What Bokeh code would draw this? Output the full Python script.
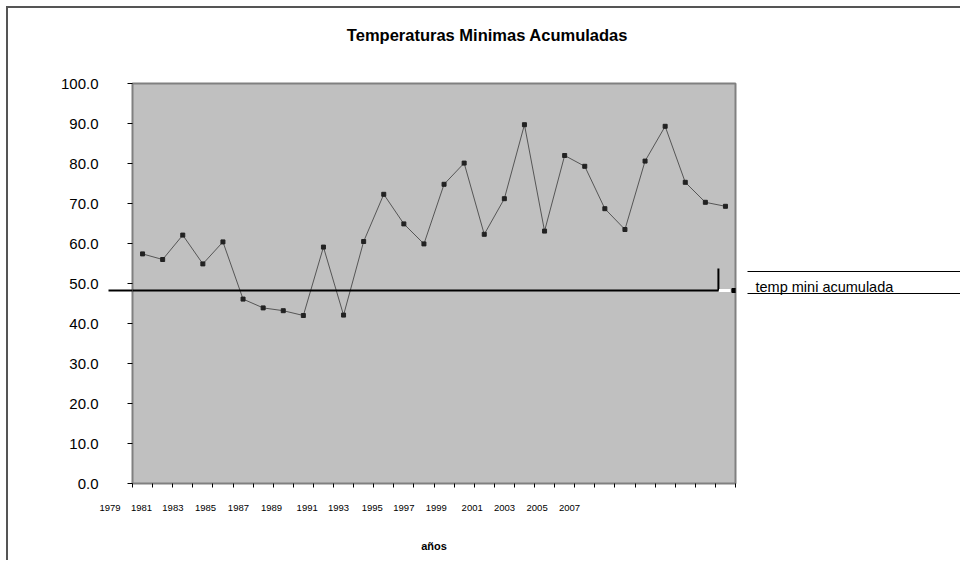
from bokeh.plotting import figure
from bokeh.models import (Range1d, LinearAxis, FixedTicker, NumeralTickFormatter,
                          ColumnDataSource)
from bokeh.embed import file_html
from bokeh.resources import INLINE

# ---- data ----
years = list(range(1981, 2011))
temps = [57.4, 56.0, 62.1, 54.9, 60.4, 46.1, 43.9, 43.2, 42.0, 59.1,
         42.1, 60.5, 72.3, 64.9, 59.9, 74.8, 80.1, 62.3, 71.2, 89.7,
         63.1, 82.0, 79.3, 68.7, 63.5, 80.6, 89.3, 75.3, 70.3, 69.3]
x_labels = ["1979", "1981", "1983", "1985", "1987", "1989", "1991", "1993",
            "1995", "1997", "1999", "2001", "2003", "2005", "2007"]
# where the (misplaced) year labels sit, in category units
x_label_slots = [0.0, 0.45, 2.01, 3.63, 5.27, 6.92, 8.69, 10.25,
                 11.93, 13.50, 15.11, 16.90, 18.51, 20.13, 21.74]
y_ticks = [0, 10, 20, 30, 40, 50, 60, 70, 80, 90, 100]
title_text = "Temperaturas Minimas Acumuladas"
title_slot = 17.66
x_title = "años"
legend_text = "temp mini acumulada"
legend_slot = 49.25
legend_rules = [47.5, 53.0]
stray_level = 48.25       # stray black legend line
stray_top = 53.75

FONT = "Liberation Sans"
NBSP = "\u00a0"

n = len(years)
xpos = [i + 0.5 for i in range(n)]
src = ColumnDataSource(dict(x=xpos, y=temps, year=years))

p = figure(width=954, height=554, output_backend="svg", toolbar_location=None,
           x_range=Range1d(0, n), y_range=Range1d(0, 100),
           x_axis_type=None, y_axis_type=None, title=None,
           min_border_left=124, min_border_right=227,
           min_border_top=75, min_border_bottom=79)
p.styles = {"margin-left": "6px", "margin-top": "6px",
            "border-top": "2px solid #555555", "border-left": "2px solid #555555"}

p.background_fill_color = "#c0c0c0"
p.border_fill_color = "white"
p.outline_line_color = "#808080"
p.outline_line_width = 2

# title, carried by an axis above the plot
tax = LinearAxis(ticker=FixedTicker(ticks=[title_slot], minor_ticks=[]))
tax.major_label_overrides = {title_slot: title_text}
tax.axis_line_color = None
tax.major_tick_line_color = None
tax.major_tick_out = 0
tax.major_tick_in = 0
tax.minor_tick_line_color = None
tax.major_label_standoff = 40
tax.major_label_text_font = FONT
tax.major_label_text_font_size = "16.5px"
tax.major_label_text_font_style = "bold"
tax.major_label_text_color = "black"
p.add_layout(tax, "above")

# y axis (with the stray black line as a long minor tick)
yax = LinearAxis(ticker=FixedTicker(ticks=y_ticks, minor_ticks=[stray_level]),
                 formatter=NumeralTickFormatter(format="0.0"))
yax.axis_line_color = None
yax.major_tick_line_color = "black"
yax.major_tick_out = 5
yax.major_tick_in = 0
yax.minor_tick_line_color = "black"
yax.minor_tick_line_width = 2
yax.minor_tick_out = 24
yax.minor_tick_in = 0
yax.major_label_standoff = 10
yax.major_label_text_font = FONT
yax.major_label_text_font_size = "15px"
yax.major_label_text_color = "black"
p.add_layout(yax, "left")

# legend-like text on the right, with its two rules drawn as minor ticks
rax = LinearAxis(ticker=FixedTicker(ticks=[legend_slot], minor_ticks=legend_rules))
rax.major_label_overrides = {legend_slot: legend_text}
rax.axis_line_color = None
rax.major_tick_line_color = None
rax.major_tick_out = 0
rax.major_tick_in = 0
rax.minor_tick_line_color = "black"
rax.minor_tick_line_width = 1
rax.minor_tick_out = 240
rax.minor_tick_in = -12
rax.major_label_standoff = -220
rax.major_label_text_font = FONT
rax.major_label_text_font_size = "14.5px"
rax.major_label_text_color = "black"
p.add_layout(rax, "right")

# x axis: tick marks at category boundaries (minor), year labels (major, misplaced)
overrides = {}
for pos, lab in zip(x_label_slots, x_labels):
    overrides[pos] = lab + NBSP * 17 if pos == 0.0 else lab
xax = LinearAxis(ticker=FixedTicker(ticks=x_label_slots,
                                    minor_ticks=list(range(n + 1))))
xax.major_label_overrides = overrides
xax.axis_line_color = None
xax.major_tick_line_color = None
xax.major_tick_out = 0
xax.major_tick_in = 0
xax.minor_tick_line_color = "black"
xax.minor_tick_out = 4
xax.minor_tick_in = 0
xax.major_label_standoff = 14
xax.major_label_text_font = FONT
xax.major_label_text_font_size = "9.5px"
xax.major_label_text_color = "black"
xax.axis_label = x_title
xax.axis_label_text_font = FONT
xax.axis_label_text_font_style = "bold"
xax.axis_label_text_font_size = "11px"
xax.axis_label_text_color = "black"
xax.axis_label_standoff = 24
p.add_layout(xax, "below")

p.ygrid.ticker = FixedTicker(ticks=y_ticks)
p.ygrid.grid_line_color = "#808080"
p.ygrid.grid_line_width = 1.5
p.xgrid.grid_line_color = None

p.line("x", "y", source=src, line_color="#555555", line_width=1)
p.scatter("x", "y", source=src, marker="square", size=4,
          fill_color="#222222", line_color="#222222")

# stray legend artefacts inside the plot area
p.segment(x0=[0, n - 0.85], y0=[stray_level, stray_level],
          x1=[n - 0.85, n - 0.85], y1=[stray_level, stray_top],
          line_color="black", line_width=2)
p.quad(left=[n - 0.82], right=[n - 0.25], top=[stray_level + 0.35],
       bottom=[stray_level - 0.35], fill_color="white", line_color=None)
p.scatter(x=[n - 0.08], y=[stray_level], marker="square", size=4,
          fill_color="black", line_color="black")

open("out.html", "w").write(file_html(p, INLINE))
